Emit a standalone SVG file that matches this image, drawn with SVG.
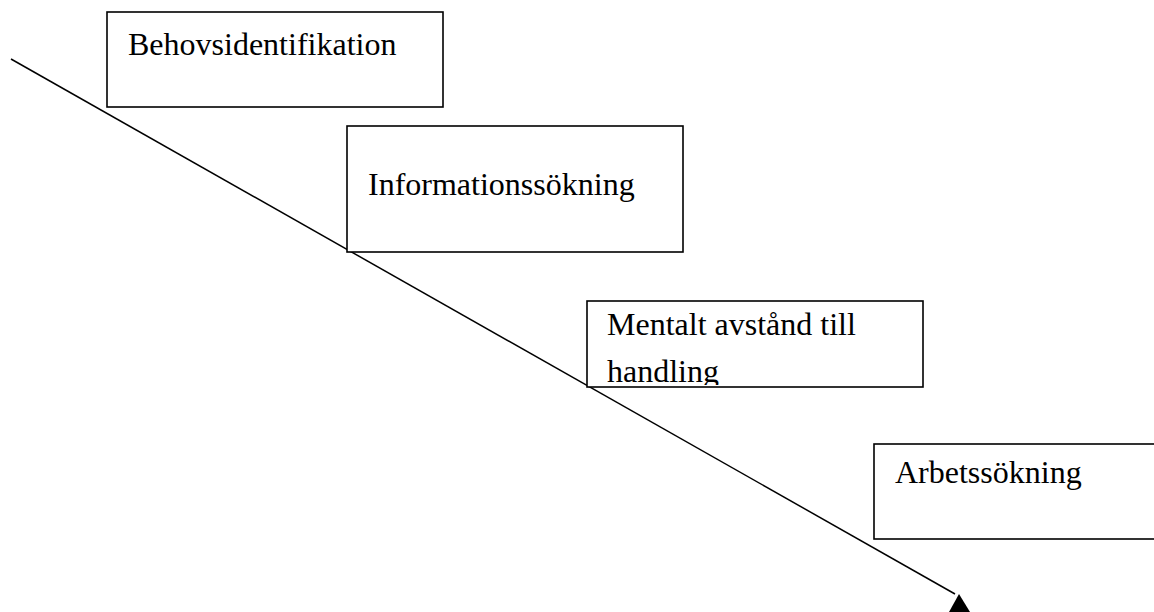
<svg xmlns="http://www.w3.org/2000/svg" width="1154" height="612" viewBox="0 0 1154 612">
<style>
.box{fill:#fff;stroke:#000;stroke-width:1.6}
.lbl{font-family:"Liberation Serif","Times New Roman",serif;font-size:32px;fill:#000}
.conn{stroke:#000;stroke-width:1.5;fill:none}
</style>
<defs>
<clipPath id="clip3"><rect x="587" y="301" width="336" height="84"/></clipPath>
</defs>
<rect width="1154" height="612" fill="#fff"/>
<g id="connectors">
<line class="conn" x1="11" y1="59" x2="955" y2="594"/>
<polygon points="959,594 949,612 970,612" fill="#000"/>
</g>
<g id="node1">
<rect class="box" x="107" y="12" width="336" height="95"/>
<text class="lbl" x="128" y="55">Behovsidentifikation</text>
</g>
<g id="node2">
<rect class="box" x="347" y="126" width="336" height="126"/>
<text class="lbl" x="368" y="195">Informationssökning</text>
</g>
<g id="node3">
<rect class="box" x="587" y="301" width="336" height="86"/>
<g clip-path="url(#clip3)">
<text class="lbl" x="607" y="335">Mentalt avstånd till</text>
<text class="lbl" x="607" y="382">handling</text>
</g>
</g>
<g id="node4">
<rect class="box" x="874" y="444" width="290" height="95"/>
<text class="lbl" x="895" y="483">Arbetssökning</text>
</g>
</svg>
